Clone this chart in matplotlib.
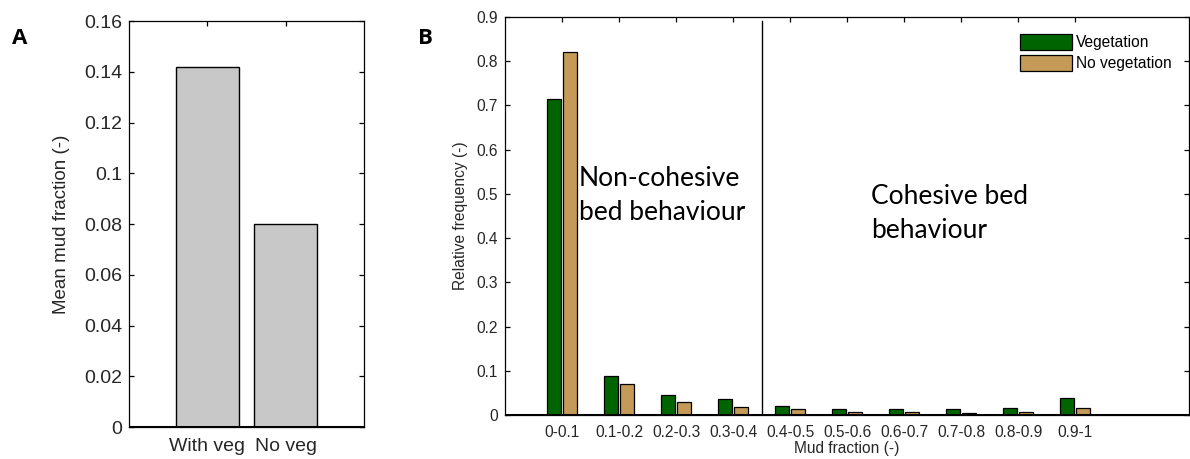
import numpy as np
import matplotlib
matplotlib.use("Agg")
import matplotlib.pyplot as plt

plt.rcParams["font.family"] = ["Liberation Sans", "DejaVu Sans"]

# panel A: mean mud fraction per scenario
scenarios = ["With veg", "No veg"]
mean_mud = [0.142, 0.080]

# panel B: histogram of mud fraction per class
mud_classes = ["0-0.1", "0.1-0.2", "0.2-0.3", "0.3-0.4", "0.4-0.5",
               "0.5-0.6", "0.6-0.7", "0.7-0.8", "0.8-0.9", "0.9-1"]
freq_veg = [0.714, 0.088, 0.045, 0.036, 0.021, 0.013, 0.013, 0.013, 0.016, 0.039]
freq_noveg = [0.821, 0.070, 0.030, 0.019, 0.013, 0.007, 0.007, 0.004, 0.007, 0.016]

GREEN = "#006400"
TAN = "#c49a58"
TXT = "#262626"

fig = plt.figure(figsize=(11.9, 4.59), dpi=100)


def style_axes(ax, fs):
    ax.tick_params(direction="in", length=3.6, width=0.9, colors="black",
                   labelcolor=TXT, labelsize=fs, top=True, right=True,
                   bottom=False, pad=5)
    for s in ax.spines.values():
        s.set_linewidth(0.9)


# ---- A ----
axA = fig.add_axes([0.1084, 0.0697, 0.1975, 0.8845])
xa = np.arange(1, len(scenarios) + 1)
axA.bar(xa, mean_mud, width=0.8, color="#c8c8c8", edgecolor="black", lw=1.0, zorder=2)
axA.axhline(0, color="black", lw=2.2, zorder=3)
axA.set_xlim(0, 3)
axA.set_ylim(0, 0.16)
axA.set_xticks(xa)
axA.set_xticklabels(scenarios)
yt = np.arange(0, 0.161, 0.02)
axA.set_yticks(yt)
axA.set_yticklabels(["%g" % round(v, 2) for v in yt])
style_axes(axA, 14)
axA.tick_params(axis="x", pad=8)
axA.set_ylabel("Mean mud fraction (-)", fontsize=13.5, color=TXT, labelpad=10)
fig.text(0.010, 0.905, "A", fontsize=16, fontweight="bold", family="Open Sans")

# ---- B ----
axB = fig.add_axes([0.4244, 0.0959, 0.5748, 0.867])
xb = np.arange(1, len(mud_classes) + 1)
axB.bar(xb - 0.143, freq_veg, width=0.25, color=GREEN, edgecolor="black", lw=0.9,
        label="Vegetation", zorder=2)
axB.bar(xb + 0.143, freq_noveg, width=0.25, color=TAN, edgecolor="black", lw=0.9,
        label="No vegetation", zorder=2)
axB.axhline(0, color="black", lw=2.2, zorder=3)
axB.plot([4.5, 4.5], [0, 0.89], color="black", lw=1.0, zorder=1)
axB.set_xlim(0, 12)
axB.set_ylim(0, 0.9)
axB.set_xticks(xb)
axB.set_xticklabels(mud_classes)
ybt = np.arange(0, 0.91, 0.1)
axB.set_yticks(ybt)
axB.set_yticklabels(["%g" % round(v, 1) for v in ybt])
style_axes(axB, 11.2)
axB.tick_params(axis="x", pad=7)
axB.set_xlabel("Mud fraction (-)", fontsize=11.2, color=TXT, labelpad=1)
axB.set_ylabel("Relative frequency (-)", fontsize=11.2, color=TXT, labelpad=6)
axB.legend(loc="upper right", frameon=False, fontsize=11.2, handlelength=3.3,
           handleheight=1.25, handletextpad=0.25, labelspacing=0.3,
           borderaxespad=0.3, bbox_to_anchor=(0.99, 0.985))

axB.text(1.29, 0.429, "Non-cohesive\nbed behaviour", fontsize=19, family="Lato",
         ha="left", va="bottom", linespacing=1.45, color="black")
axB.text(6.42, 0.388, "Cohesive bed\nbehaviour", fontsize=19, family="Lato",
         ha="left", va="bottom", linespacing=1.45, color="black")
fig.text(0.351, 0.905, "B", fontsize=16, fontweight="bold", family="Open Sans")

fig.savefig("out.png", dpi=100)
